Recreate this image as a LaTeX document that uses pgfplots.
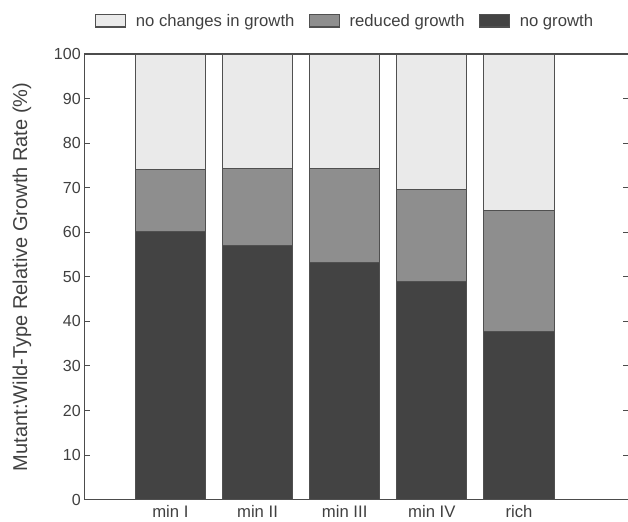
\documentclass[border=0pt]{standalone}
\usepackage{pgfplots}
\pgfplotsset{compat=1.18}
\usepackage{fontspec}
\setmainfont{Liberation Sans}
\definecolor{cLight}{HTML}{EAEAEA}
\definecolor{cMid}{HTML}{8E8E8E}
\definecolor{cDark}{HTML}{434343}
\definecolor{cEdge}{HTML}{505050}
\begin{document}
\begin{tikzpicture}
\begin{axis}[
  name=ax,
  width=408pt, height=333.75pt, scale only axis,
  ybar stacked, bar width=52.5pt,
  xmin=0.01, xmax=6.26, ymin=0, ymax=100,
  xtick={1,2,3,4,5},
  xticklabels={min I, min II, min III, min IV, rich},
  major x tick style={draw=none},
  x tick label style={font=\fontsize{12.5}{15}\selectfont, text=black!75, yshift=-1pt},
  ytick={0,10,...,100},
  y tick label style={font=\fontsize{12}{14}\selectfont, text=black!75, xshift=1pt},
  tick align=inside,
  major tick length=4.5pt,
  /pgf/number format/assume math mode=true,
  ylabel={Mutant:Wild-Type Relative Growth Rate (\%)},
  ylabel style={at={(axis description cs:-0.114,0.5)}, anchor=center,
    font=\fontsize{15}{18}\selectfont, text=black!75},
  axis line style={black!70, line width=0.9pt},
  every tick/.style={black!70, line width=0.8pt},
  reverse legend,
  legend style={at={(0.48,1)}, anchor=center, yshift=24.75pt, draw=none, fill=none,
    legend columns=3,
    font=\fontsize{12.5}{15}\selectfont, text=black!75,
    /tikz/every odd column/.append style={column sep=5.5pt},
    /tikz/every even column/.append style={column sep=9pt}},
  legend image code/.code={\draw[#1] (0pt,-4.5pt) rectangle (22pt,5pt);},
  every axis plot/.append style={draw=cEdge, line width=0.8pt},
]
\addplot[fill=cDark] coordinates {(1,60.1) (2,57.1) (3,53.3) (4,49.0) (5,37.8)};
\addplot[fill=cMid] coordinates {(1,14.0) (2,17.2) (3,21.0) (4,20.7) (5,27.1)};
\addplot[fill=cLight] coordinates {(1,25.9) (2,25.7) (3,25.7) (4,30.3) (5,35.1)};
\legend{no growth, reduced growth, no changes in growth}
\end{axis}
\pgfresetboundingbox
\path[use as bounding box] ([xshift=-63pt,yshift=-16.5pt]ax.south west) rectangle ([xshift=-0.6pt,yshift=40.5pt]ax.north east);
\end{tikzpicture}
\end{document}
